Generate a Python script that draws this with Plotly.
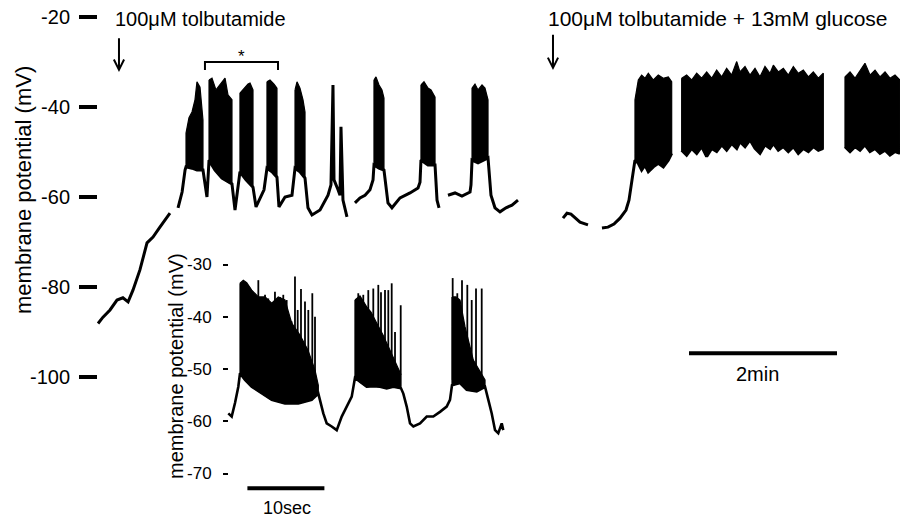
import plotly.graph_objects as go

FONT = "Liberation Sans, Arial, sans-serif"

# ---------------- main recording: time (min) vs membrane potential (mV) ----------------
# Continuous stretches of the trace; the floor of every burst is part of its stretch.
main_pieces = [
    # slow depolarisation after tolbutamide
    [(0.014, -88.1), (0.081, -86.7), (0.176, -85.1), (0.270, -82.9), (0.350, -82.4),
     (0.420, -83.3), (0.486, -80.7), (0.580, -76.2), (0.676, -70.2), (0.757, -68.9),
     (0.850, -66.7), (0.986, -63.6)],
    # bursting, first stretch
    [(1.095, -62.4), (1.150, -58.9), (1.190, -54.0),
     (1.203, -53.3), (1.284, -53.6), (1.351, -54.0), (1.432, -54.0),
     (1.486, -60.0),
     (1.514, -51.8), (1.595, -54.0), (1.689, -55.8), (1.770, -56.7), (1.824, -57.1),
     (1.865, -62.9),
     (1.932, -54.4), (2.014, -56.2), (2.108, -57.8),
     (2.149, -62.2), (2.203, -60.2), (2.257, -58.4),
     (2.297, -53.6), (2.365, -54.4), (2.432, -55.6),
     (2.459, -62.2), (2.541, -60.0), (2.635, -59.6),
     (2.676, -53.6), (2.743, -54.4), (2.811, -55.8),
     (2.851, -62.4), (2.905, -64.0), (3.014, -62.9), (3.122, -59.6), (3.162, -57.3),
     (3.189, -35.1), (3.203, -56.2), (3.257, -58.4), (3.284, -59.6), (3.297, -44.4),
     (3.324, -60.7), (3.378, -64.4)],
    # bursting, second stretch
    [(3.486, -61.3), (3.554, -60.2), (3.622, -59.6), (3.689, -58.4), (3.730, -56.2),
     (3.743, -52.9), (3.811, -53.6), (3.878, -54.0),
     (3.932, -61.3), (3.986, -62.4), (4.095, -60.2), (4.230, -59.1), (4.338, -58.0),
     (4.365, -56.7),
     (4.378, -51.8), (4.473, -52.9), (4.568, -52.9),
     (4.595, -60.7), (4.622, -62.4)],
    # bursting, third stretch
    [(4.743, -59.6), (4.838, -59.1), (4.932, -59.8), (5.041, -58.9), (5.054, -57.3),
     (5.068, -51.8), (5.149, -52.4), (5.230, -51.8), (5.284, -51.3),
     (5.324, -59.6), (5.378, -62.4), (5.446, -63.3), (5.527, -62.4), (5.608, -61.8),
     (5.689, -60.7)],
    # tolbutamide + glucose
    [(6.297, -64.7), (6.351, -63.6), (6.405, -63.8), (6.459, -64.7), (6.527, -65.6),
     (6.635, -66.2)],
    [(6.824, -66.9), (6.905, -66.7), (6.986, -66.0), (7.068, -64.7), (7.149, -62.9),
     (7.189, -60.7), (7.230, -56.2), (7.257, -52.9),
     (7.270, -51.8), (7.315, -52.5), (7.360, -54.0), (7.405, -52.9), (7.450, -54.4),
     (7.518, -53.3), (7.585, -52.5), (7.653, -53.3), (7.720, -51.8), (7.766, -50.3)],
    [(7.901, -49.6), (7.968, -50.7), (8.036, -49.2), (8.104, -50.3), (8.171, -48.8),
     (8.239, -51.0), (8.307, -49.2), (8.374, -49.9), (8.442, -48.4), (8.509, -49.6),
     (8.577, -48.1), (8.645, -49.2), (8.689, -47.7), (8.757, -48.8), (8.824, -47.3),
     (8.892, -49.2), (8.959, -50.3), (9.027, -48.4), (9.095, -49.2), (9.140, -48.1),
     (9.207, -49.6), (9.275, -48.8), (9.342, -49.9), (9.410, -48.8), (9.477, -50.3),
     (9.545, -49.2), (9.613, -49.9), (9.680, -48.8), (9.748, -49.6), (9.815, -49.2)],
    [(10.108, -48.8), (10.176, -49.9), (10.243, -48.8), (10.311, -49.6), (10.378, -48.4),
     (10.446, -49.9), (10.514, -49.2), (10.581, -50.3), (10.649, -49.6), (10.716, -50.7),
     (10.784, -49.9), (10.851, -50.3)],
]

# upper envelope of each burst of spikes
main_burst_tops = [
    [(1.203, -45.8), (1.243, -42.4), (1.284, -41.1), (1.324, -38.4), (1.351, -34.4),
     (1.392, -35.6), (1.432, -42.9)],
    [(1.514, -34.0), (1.554, -33.6), (1.608, -36.2), (1.662, -35.1), (1.730, -33.6),
     (1.770, -37.3), (1.824, -38.4)],
    [(1.932, -36.9), (1.986, -35.8), (2.041, -34.9), (2.068, -34.7), (2.108, -36.2)],
    [(2.297, -34.4), (2.338, -34.0), (2.392, -34.9), (2.432, -35.8)],
    [(2.676, -36.2), (2.703, -34.4), (2.743, -35.8), (2.784, -38.4), (2.811, -41.1)],
    [(3.743, -34.0), (3.770, -33.3), (3.811, -35.1), (3.851, -36.2), (3.878, -38.0)],
    [(4.378, -35.1), (4.419, -34.4), (4.473, -35.8), (4.514, -36.2), (4.568, -37.8)],
    [(5.068, -35.8), (5.108, -34.9), (5.149, -36.2), (5.203, -35.1), (5.243, -35.8),
     (5.284, -38.4)],
    [(7.270, -38.4), (7.315, -34.0), (7.360, -32.9), (7.405, -33.6), (7.450, -32.5),
     (7.518, -34.0), (7.585, -32.9), (7.653, -33.6), (7.720, -33.3), (7.766, -34.4)],
    [(7.901, -33.6), (7.968, -32.9), (8.036, -34.0), (8.104, -32.5), (8.171, -33.6),
     (8.239, -32.2), (8.307, -33.6), (8.374, -31.8), (8.442, -33.3), (8.509, -31.4),
     (8.577, -32.9), (8.645, -29.9), (8.689, -32.2), (8.757, -31.0), (8.824, -32.9),
     (8.892, -31.4), (8.959, -33.3), (9.027, -31.0), (9.095, -32.5), (9.140, -30.7),
     (9.207, -32.2), (9.275, -31.4), (9.342, -32.9), (9.410, -31.0), (9.477, -32.5),
     (9.545, -31.8), (9.613, -33.3), (9.680, -32.2), (9.748, -33.6), (9.815, -32.5)],
    [(10.108, -33.3), (10.176, -32.2), (10.243, -33.6), (10.311, -31.8), (10.378, -30.3),
     (10.446, -32.9), (10.514, -31.8), (10.581, -33.3), (10.649, -32.2), (10.716, -33.6),
     (10.784, -32.9), (10.851, -34.0)],
]

main_ticks = [-100, -80, -60, -40, -20]
main_tick_text = ["-100", "-80", "-60", "-40", "-20"]

# ---------------- inset: time (s) vs membrane potential (mV) ----------------
inset_base = [
    (-0.48, -58.5), (-0.04, -59.1), (0.39, -56.5), (0.82, -53.4),
    (1.04, -50.8), (1.69, -52.1), (2.56, -53.4), (3.86, -54.7), (5.16, -55.9),
    (6.88, -56.6), (8.61, -56.6), (10.35, -55.9), (11.21, -54.7),
    (11.86, -58.5), (12.30, -60.4), (12.95, -61.0), (13.60, -61.7), (14.25, -59.1),
    (14.90, -57.2), (15.55, -55.3),
    (15.97, -51.7), (16.62, -52.5), (17.49, -53.4), (18.31, -53.3), (19.22, -53.4),
    (20.09, -53.7), (20.95, -53.4), (21.95, -53.7),
    (22.25, -54.7), (22.69, -57.2), (23.12, -60.4), (23.55, -61.0), (24.42, -60.4),
    (25.29, -59.1), (26.14, -59.1), (27.01, -58.2), (27.88, -57.2), (28.31, -55.9),
    (28.57, -53.1), (29.61, -52.7), (30.48, -54.0), (31.78, -54.3), (32.86, -53.4),
    (33.29, -55.9), (33.73, -58.5), (34.16, -61.7), (34.58, -62.3), (35.03, -60.4),
    (35.23, -61.7),
]

# top of the densely filled part of each burst
inset_burst_tops = [
    [(1.04, -33.6), (1.47, -33.0), (1.91, -33.5), (2.56, -34.9), (3.42, -36.2),
     (4.29, -36.2), (5.16, -37.4), (6.01, -36.2), (6.88, -36.8), (7.75, -41.2),
     (8.83, -43.5), (9.87, -46.4), (10.78, -50.2), (11.21, -53.1)],
    [(15.97, -36.8), (16.62, -36.0), (17.49, -38.1), (18.05, -39.1), (18.79, -41.2),
     (19.61, -43.5), (20.52, -46.4), (21.17, -48.7), (21.95, -51.1)],
    [(28.57, -36.2), (29.09, -36.2), (29.61, -36.8), (30.26, -41.9), (31.34, -48.3),
     (32.21, -50.6), (32.86, -52.1)],
]

# individual action potentials (time, peak) standing out of each burst
inset_spikes = [
    [(3.42, -33.0), (4.29, -35.8), (4.71, -36.5), (5.58, -35.2), (6.23, -36.2),
     (6.66, -35.8), (7.10, -36.8), (7.75, -40.9), (8.18, -32.3), (8.53, -38.7),
     (8.96, -34.7), (9.48, -37.1), (9.91, -38.7), (10.43, -35.5), (10.78, -40.0)],
    [(16.40, -35.5), (17.05, -35.8), (17.70, -34.9), (18.35, -34.6), (19.00, -33.9),
     (19.35, -35.3), (19.87, -34.9), (20.30, -34.9), (20.74, -33.6), (21.17, -42.9),
     (21.91, -37.8)],
    [(28.66, -32.6), (29.26, -35.5), (29.87, -33.0), (30.56, -33.9), (31.13, -36.8),
     (31.69, -34.6), (32.43, -34.6)],
]

inset_ticks = [-70, -60, -50, -40, -30]
inset_tick_text = ["-70", "-60", "-50", "-40", "-30"]


def joined(pieces):
    xs, ys = [], []
    for piece in pieces:
        xs += [p[0] for p in piece] + [None]
        ys += [p[1] for p in piece] + [None]
    return xs, ys


def burst_polygon(top, base):
    """Close a burst's upper envelope along the trace floor underneath it."""
    t0, t1 = top[0][0], top[-1][0]
    floor = [p for p in base if t0 - 1e-9 <= p[0] <= t1 + 1e-9]
    pts = top + floor[::-1] + [top[0]]
    return [p[0] for p in pts], [p[1] for p in pts]


fig = go.Figure()

# main trace
all_main = [p for piece in main_pieces for p in piece]
mx, my = joined(main_pieces)
fig.add_trace(go.Scatter(x=mx, y=my, mode="lines", line=dict(color="black", width=3),
                         hoverinfo="skip", xaxis="x", yaxis="y"))
for top in main_burst_tops:
    px_, py_ = burst_polygon(top, all_main)
    fig.add_trace(go.Scatter(x=px_, y=py_, mode="lines", fill="toself", fillcolor="black",
                             line=dict(color="black", width=1.2), hoverinfo="skip",
                             xaxis="x", yaxis="y"))

# inset trace
ix, iy = joined([inset_base])
fig.add_trace(go.Scatter(x=ix, y=iy, mode="lines", line=dict(color="black", width=2.6),
                         hoverinfo="skip", xaxis="x2", yaxis="y2"))
for top, spikes in zip(inset_burst_tops, inset_spikes):
    px_, py_ = burst_polygon(top, inset_base)
    fig.add_trace(go.Scatter(x=px_, y=py_, mode="lines", fill="toself", fillcolor="black",
                             line=dict(color="black", width=1.2), hoverinfo="skip",
                             xaxis="x2", yaxis="y2"))
    foot = min(p[1] for p in top)
    sx, sy = [], []
    for t, peak in spikes:
        sx += [t, t, None]
        sy += [foot, peak, None]
    fig.add_trace(go.Scatter(x=sx, y=sy, mode="lines", line=dict(color="black", width=1.8),
                             hoverinfo="skip", xaxis="x2", yaxis="y2"))

axis_common = dict(showgrid=False, zeroline=False, showline=False, ticks="outside",
                   tickcolor="black")

fig.update_layout(
    width=900, height=520, margin=dict(l=0, r=0, t=0, b=0),
    paper_bgcolor="white", plot_bgcolor="rgba(0,0,0,0)", showlegend=False,
    font=dict(family=FONT, color="black"),
    xaxis=dict(domain=[0, 1], range=[-1.3108, 10.8514], visible=False),
    yaxis=dict(domain=[0, 1], range=[-131.78, -16.22], anchor="free", position=97 / 900,
               tickvals=main_ticks, ticktext=main_tick_text, ticklen=18, tickwidth=3.5,
               tickfont=dict(size=20, family=FONT, color="black"), ticklabelstandoff=5,
               **axis_common),
    xaxis2=dict(domain=[0.2, 0.6], range=[-6.753, 40.0], visible=False, anchor="y2"),
    yaxis2=dict(domain=[1 - 495 / 520, 1 - 250 / 520], range=[-74.115, -27.225],
                anchor="free", position=228 / 900,
                tickvals=inset_ticks, ticktext=inset_tick_text, ticklen=5, tickwidth=2,
                tickfont=dict(size=17, family=FONT, color="black"), ticklabelstandoff=8,
                **axis_common),
)

# scale bars and bracket
fig.add_shape(type="line", xref="x", yref="y", x0=8, x1=10, y0=-94.7, y1=-94.7,
              line=dict(color="black", width=4))
fig.add_shape(type="line", xref="x2", yref="y2", x0=2, x1=12, y0=-72.8, y1=-72.8,
              line=dict(color="black", width=4))
fig.add_shape(type="path", xref="x", yref="y",
              path="M 1.459,-31.8 L 1.459,-30 L 2.446,-30 L 2.446,-31.8",
              line=dict(color="black", width=2))

ann = [
    dict(text="membrane potential (mV)", xref="paper", yref="paper", x=23 / 900,
         y=1 - 190 / 520, xanchor="center", yanchor="middle", textangle=-90,
         font=dict(size=22), showarrow=False),
    dict(text="membrane potential (mV)", xref="paper", yref="paper", x=176 / 900,
         y=1 - 366 / 520, xanchor="center", yanchor="middle", textangle=-90,
         font=dict(size=20), showarrow=False),
    dict(text="100μM tolbutamide", xref="x", yref="y", x=0.22, y=-20.4,
         xanchor="left", yanchor="middle", font=dict(size=20), showarrow=False),
    dict(text="100μM tolbutamide + 13mM glucose", xref="x", yref="y", x=6.07, y=-20.4,
         xanchor="left", yanchor="middle", font=dict(size=21), showarrow=False),
    dict(text="*", xref="x", yref="y", x=1.95, y=-28.8, font=dict(size=17),
         showarrow=False),
    dict(text="2min", xref="x", yref="y", x=8.92, y=-99.3, font=dict(size=20),
         showarrow=False),
    dict(text="10sec", xref="x2", yref="paper", x=7.1, y=1 - 508 / 520,
         xanchor="center", yanchor="middle", font=dict(size=18), showarrow=False),
    dict(text="", xref="x", yref="y", x=0.297, y=-32.2, ax=0.297, ay=-24.4,
         axref="x", ayref="y", showarrow=True, arrowhead=5, arrowsize=1,
         arrowwidth=2, arrowcolor="black"),
    dict(text="", xref="x", yref="y", x=6.162, y=-31.8, ax=6.162, ay=-23.6,
         axref="x", ayref="y", showarrow=True, arrowhead=5, arrowsize=1,
         arrowwidth=2, arrowcolor="black"),
]
for a in ann:
    a.setdefault("font", {})
    a["font"].update(family=FONT, color="black")
    fig.add_annotation(**a)

fig.write_html("out.html")
